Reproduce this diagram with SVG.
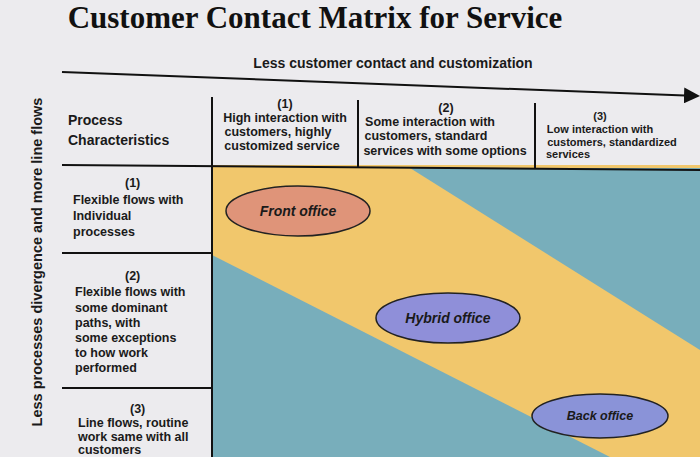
<svg xmlns="http://www.w3.org/2000/svg" width="700" height="457" viewBox="0 0 700 457">
<style>
.t{font-family:"Liberation Sans",Arial,sans-serif;font-weight:bold;fill:#1a1a1a}
.h{font-size:14px}
.c{font-size:12.5px}
.ln{stroke:#111;stroke-width:2;fill:none}
.el{stroke:#222;stroke-width:1.5}
</style>
<defs><marker id="ah" markerWidth="8" markerHeight="8" refX="7" refY="4" orient="auto"><path d="M0,0L8,4L0,8z" fill="#111"/></marker></defs>
<rect width="700" height="457" fill="#ecebee"/>
<text x="315" y="28" text-anchor="middle" style="font-family:'Liberation Serif',serif;font-weight:bold;font-size:31px;fill:#111">Customer Contact Matrix for Service</text>
<text class="t" x="393" y="68" text-anchor="middle" style="font-size:14px">Less customer contact and customization</text>
<text class="t" transform="translate(42,262) rotate(-90)" text-anchor="middle" style="font-size:14.5px">Less processes divergence and more line flows</text>
<g id="bg">
<rect x="212" y="165" width="488" height="292" fill="#f1c76c"/>
<polygon points="410,168 700,168 700,350" fill="#78aebb"/>
<polygon points="212,255 212,457 610,457" fill="#78aebb"/>
</g>
<g id="connectors">
<line class="ln" x1="62" y1="72" x2="698" y2="96" marker-end="url(#ah)"/>
<line class="ln" x1="62" y1="165" x2="700" y2="170"/>
<line class="ln" x1="212" y1="97" x2="212" y2="457"/>
<line class="ln" x1="358" y1="100" x2="358" y2="167"/>
<line class="ln" x1="535" y1="103" x2="535" y2="168"/>
<line class="ln" x1="62" y1="253" x2="212" y2="253"/>
<line class="ln" x1="62" y1="388" x2="212" y2="388"/>
</g>
<g id="header" class="t">
<text class="h" x="68" y="125">Process</text>
<text class="h" x="68" y="145">Characteristics</text>
<text class="c" text-anchor="middle"><tspan x="285" y="108">(1)</tspan><tspan x="285" y="122">High interaction with</tspan><tspan x="278" y="136">customers, highly</tspan><tspan x="282" y="150">customized service</tspan></text>
<text class="c" text-anchor="middle"><tspan x="446" y="112">(2)</tspan><tspan x="430" y="126">Some interaction with</tspan><tspan x="426" y="140">customers, standard</tspan><tspan x="445" y="155">services with some options</tspan></text>
<text style="font-size:11px" text-anchor="middle"><tspan x="600" y="120">(3)</tspan><tspan x="600" y="133">Low interaction with</tspan><tspan x="612" y="146">customers, standardized</tspan><tspan x="568" y="158">services</tspan></text>
</g>
<g id="rows" class="t c">
<text><tspan x="125" y="187">(1)</tspan><tspan x="73" y="204">Flexible flows with</tspan><tspan x="73" y="220">Individual</tspan><tspan x="73" y="236">processes</tspan></text>
<text><tspan x="125" y="280">(2)</tspan><tspan x="75" y="296">Flexible flows with</tspan><tspan x="75" y="312">some dominant</tspan><tspan x="75" y="327">paths, with</tspan><tspan x="75" y="342">some exceptions</tspan><tspan x="75" y="357">to how work</tspan><tspan x="75" y="372">performed</tspan></text>
<text><tspan x="130" y="413">(3)</tspan><tspan x="78" y="427">Line flows, routine</tspan><tspan x="78" y="441">work same with all</tspan><tspan x="78" y="454">customers</tspan></text>
</g>
<g id="front"><ellipse class="el" cx="298" cy="211" rx="72" ry="25" fill="#df9479"/><text class="t h" x="298" y="216" text-anchor="middle" font-style="italic">Front office</text></g>
<g id="hybrid"><ellipse class="el" cx="448" cy="318" rx="72" ry="25" fill="#8f8fd9"/><text class="t h" x="448" y="323" text-anchor="middle" font-style="italic">Hybrid office</text></g>
<g id="back"><ellipse class="el" cx="600" cy="416" rx="68" ry="22" fill="#8a93d8"/><text class="t c" x="600" y="420" text-anchor="middle" font-style="italic">Back office</text></g>
</svg>
